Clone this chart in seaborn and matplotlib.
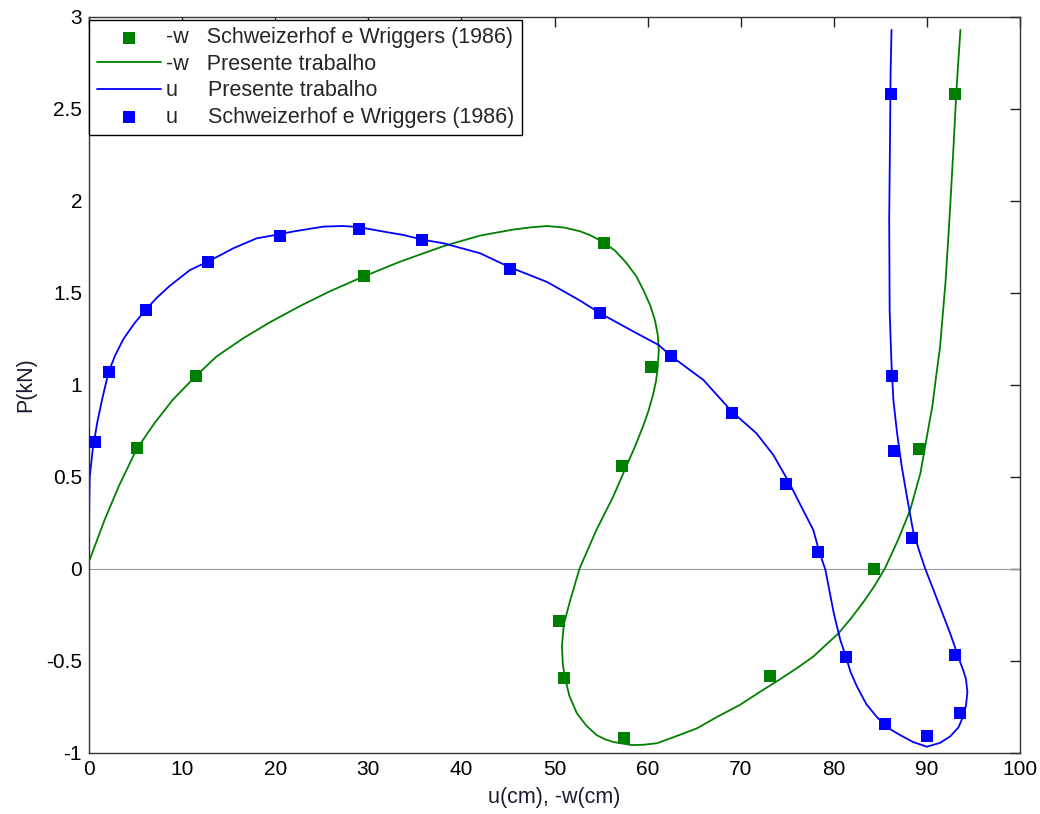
import matplotlib
matplotlib.use("Agg")
import matplotlib.pyplot as plt
import seaborn as sns

# reference points, -w (Schweizerhof e Wriggers 1986)
ref_w_x = [5.2, 11.5, 29.5, 55.3, 60.4, 57.3, 50.5, 51.0, 57.5, 73.2, 84.3, 89.2, 93.0]
ref_w_p = [0.66, 1.05, 1.59, 1.77, 1.10, 0.56, -0.28, -0.59, -0.92, -0.58, 0.0, 0.65, 2.58]

# reference points, u (Schweizerhof e Wriggers 1986)
ref_u_x = [0.6, 2.1, 6.1, 12.75, 20.5, 29.0, 35.8, 45.2, 54.9, 62.5, 69.1, 74.9, 78.3,
           81.3, 85.5, 90.0, 93.6, 93.0, 88.4, 86.5, 86.2, 86.1]
ref_u_p = [0.69, 1.07, 1.41, 1.67, 1.81, 1.85, 1.79, 1.63, 1.39, 1.16, 0.85, 0.46, 0.09,
           -0.48, -0.84, -0.91, -0.78, -0.47, 0.17, 0.64, 1.05, 2.58]

# present work, -w curve
pres_w_x = [0.07, 1.7, 3.2, 5.1, 7.0, 9.0, 11.5, 13.7, 16.6, 19.4, 22.7, 25.9, 29.5, 33.4,
            38.1, 42.0, 45.6, 47.5, 49.2, 51.0, 52.7, 53.8, 55.3, 56.5, 57.7, 58.8, 59.6,
            60.3, 60.8, 61.1, 61.2, 61.1, 60.9, 60.6, 60.1, 59.5, 58.6, 57.7, 56.3, 54.5,
            52.7, 51.7, 51.0, 50.8, 50.9, 51.1, 51.6, 52.4, 53.4, 54.5, 55.4, 56.3, 58.3,
            59.6, 61.0, 63.0, 65.3, 67.6, 69.9, 72.0, 74.2, 76.0, 77.8, 79.2, 80.5, 81.9,
            83.2, 84.4, 85.5, 86.9, 88.2, 89.3, 90.0, 90.6, 91.0, 91.4, 92.0, 92.45, 92.85,
            93.15, 93.35, 93.6]
pres_w_p = [0.05, 0.27, 0.45, 0.65, 0.79, 0.92, 1.05, 1.155, 1.255, 1.34, 1.43, 1.51, 1.59,
            1.67, 1.755, 1.812, 1.845, 1.857, 1.864, 1.856, 1.836, 1.815, 1.775, 1.73, 1.665,
            1.59, 1.51, 1.43, 1.35, 1.27, 1.19, 1.10, 1.02, 0.95, 0.86, 0.774, 0.66, 0.556,
            0.393, 0.212, 0.004, -0.168, -0.30, -0.42, -0.52, -0.585, -0.69, -0.784, -0.85,
            -0.902, -0.925, -0.94, -0.957, -0.955, -0.947, -0.91, -0.866, -0.80, -0.739,
            -0.67, -0.60, -0.54, -0.476, -0.41, -0.35, -0.265, -0.178, -0.09, 0.004, 0.158,
            0.32, 0.52, 0.72, 0.89, 1.05, 1.20, 1.56, 1.924, 2.286, 2.58, 2.74, 2.93]

# present work, u curve
pres_u_x = [0.0, 0.03, 0.08, 0.4, 0.9, 1.4, 2.1, 2.8, 3.7, 4.8, 6.1, 7.3, 8.7, 10.85, 12.75,
            15.5, 18.0, 20.0, 21.9, 25.2, 27.3, 29.0, 31.6, 33.8, 35.8, 38.1, 42.0, 45.2,
            49.2, 52.7, 54.9, 58.5, 61.2, 62.5, 66.0, 69.1, 71.7, 73.5, 75.2, 76.7, 77.8,
            78.4, 79.1, 80.0, 80.7, 81.3, 81.8, 82.5, 83.5, 84.6, 85.7, 87.1, 88.5, 90.0,
            91.4, 92.5, 93.4, 93.9, 94.2, 94.35, 94.2, 93.9, 93.6, 92.5, 91.4, 90.6, 89.8,
            89.1, 88.5, 87.9, 87.3, 86.8, 86.4, 86.2, 86.0, 85.95, 86.05, 86.1, 86.2]
pres_u_p = [0.185, 0.35, 0.50, 0.65, 0.80, 0.92, 1.07, 1.16, 1.25, 1.33, 1.41, 1.475, 1.54,
            1.625, 1.67, 1.743, 1.797, 1.815, 1.834, 1.861, 1.864, 1.858, 1.834, 1.815,
            1.79, 1.77, 1.716, 1.64, 1.56, 1.46, 1.39, 1.29, 1.217, 1.158, 1.027, 0.853,
            0.737, 0.62, 0.47, 0.32, 0.212, 0.10, -0.005, -0.241, -0.386, -0.476, -0.56,
            -0.64, -0.735, -0.803, -0.86, -0.902, -0.94, -0.966, -0.945, -0.91, -0.86,
            -0.80, -0.74, -0.67, -0.60, -0.55, -0.51, -0.35, -0.205, -0.10, 0.004, 0.11,
            0.212, 0.38, 0.556, 0.737, 0.918, 1.11, 1.4, 1.9, 2.4, 2.7, 2.93]

x_ticks = [0, 10, 20, 30, 40, 50, 60, 70, 80, 90, 100]
y_ticks = [-1, -0.5, 0, 0.5, 1, 1.5, 2, 2.5, 3]
y_tick_labels = ["-1", "-0.5", "0", "0.5", "1", "1.5", "2", "2.5", "3"]

GREEN = "#008000"
BLUE = "#0000ff"

sns.set_style("white")
plt.rcParams["font.family"] = ["Liberation Sans", "DejaVu Sans"]
plt.rcParams["axes.unicode_minus"] = False

fig = plt.figure(figsize=(10.4, 8.14), dpi=100)
ax = fig.add_axes([89 / 1040, 1 - 753 / 814, 931 / 1040, 736 / 814])

ax.axhline(0, color="#9a9a9a", lw=0.8, zorder=1)

sns.scatterplot(x=ref_w_x, y=ref_w_p, ax=ax, marker="s", s=70, color=GREEN, linewidth=0,
                label="-w   Schweizerhof e Wriggers (1986)", zorder=3)
sns.lineplot(x=pres_w_x, y=pres_w_p, ax=ax, sort=False, estimator=None, color=GREEN, lw=1.3,
             label="-w   Presente trabalho", zorder=2)
sns.lineplot(x=pres_u_x, y=pres_u_p, ax=ax, sort=False, estimator=None, color=BLUE, lw=1.3,
             label="u     Presente trabalho", zorder=2)
sns.scatterplot(x=ref_u_x, y=ref_u_p, ax=ax, marker="s", s=70, color=BLUE, linewidth=0,
                label="u     Schweizerhof e Wriggers (1986)", zorder=3)

ax.set_xlim(0, 100)
ax.set_ylim(-1, 3)
ax.set_xticks(x_ticks)
ax.set_xticklabels([str(v) for v in x_ticks])
ax.set_yticks(y_ticks)
ax.set_yticklabels(y_tick_labels)
ax.tick_params(direction="in", length=7, width=1, top=True, right=True,
               labelsize=15, colors="#222222", labelcolor="black", pad=5)

for s in ax.spines.values():
    s.set_color("#333333")
    s.set_linewidth(1)

ax.set_xlabel("u(cm), -w(cm)", fontsize=15.5, color="#1a1a33", labelpad=6)
ax.set_ylabel("P(kN)", fontsize=15.5, color="#1a1a33", labelpad=7)

leg = ax.legend(loc="upper left", bbox_to_anchor=(0.0, 0.996), borderaxespad=0,
                frameon=True, fancybox=False, edgecolor="black", fontsize=15.5,
                handlelength=3.0, handletextpad=0.25, labelspacing=0.25, borderpad=0.35,
                scatterpoints=1)
leg.get_frame().set_linewidth(1)
leg.get_frame().set_alpha(1)

fig.savefig("out.png", dpi=100)
